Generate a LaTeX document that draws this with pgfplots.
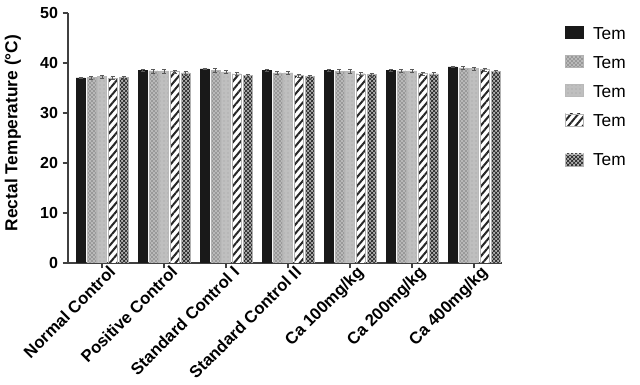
\documentclass[border=0pt]{standalone}
\usepackage{fontspec}
\setmainfont{Liberation Sans}
\usepackage{pgfplots}
\pgfplotsset{compat=1.18}
\usetikzlibrary{patterns,patterns.meta}
\pgfplotsset{lastleg/.style={legend image code/.code={\draw[##1] (0pt,-7.5pt) rectangle (13.5pt,1.5pt);}}}
\begin{document}
\begin{tikzpicture}
\useasboundingbox (-51pt,-91.5pt) rectangle (429pt,197.25pt);
\begin{axis}[
  at={(0,0)}, anchor=south west,
  scale only axis,
  width=325.5pt, height=187.5pt,
  ymin=0, ymax=50, ytick={0,10,20,30,40,50},
  xmin=-0.55, xmax=6.45,
  xtick={0,1,2,3,4,5,6},
  xticklabels={Normal Control,Positive Control,Standard Control I,Standard Control II,Ca 100mg/kg,Ca 200mg/kg,Ca 400mg/kg},
  x tick label style={rotate=45, anchor=north east, font=\bfseries\fontsize{12.5}{14}\selectfont, inner sep=0pt, xshift=5pt, yshift=-1pt},
  y tick label style={font=\bfseries\fontsize{12}{14}\selectfont},
  /pgf/number format/assume math mode=true,
  axis x line*=bottom, axis y line*=left,
  axis line style={line width=1pt, black!75, -},
  tick align=outside, major tick length=4pt,
  tick style={line width=1pt, black!75},
  ylabel={Rectal Temperature (°C)},
  ylabel style={font=\bfseries\fontsize{13}{15}\selectfont, at={(axis description cs:-0.127,0.52)}, anchor=center, rotate=0},
  ybar, bar width=0.145,
  legend style={at={(1.145,0.955)}, anchor=north west, draw=none, fill=none,
    font=\fontsize{13}{15}\selectfont, row sep=7.5pt, inner sep=0pt,
    nodes={inner xsep=7pt}},
  legend cell align=left,
  legend image code/.code={\draw[#1] (0pt,-3pt) rectangle (13.5pt,6pt);},
  error bars/y dir=both, error bars/y explicit,
  error bars/error bar style={line width=0.6pt, draw=gray!70!black, solid},
  error bars/error mark options={rotate=90, mark size=1.5pt, line width=0.6pt, draw=gray!70!black},
]
\addplot[fill=black!90, draw=black!90, bar shift=-0.348] coordinates {
 (0,37.0) +- (0,0.15) (1,38.5) +- (0,0.15) (2,38.8) +- (0,0.15) (3,38.5) +- (0,0.15)
 (4,38.5) +- (0,0.15) (5,38.5) +- (0,0.15) (6,39.2) +- (0,0.15)};
\addlegendentry{Tem}
\addplot[fill=gray!55, draw=gray!60, bar shift=-0.174, postaction={pattern=crosshatch dots, pattern color=gray!40!black}] coordinates {
 (0,37.1) +- (0,0.3) (1,38.4) +- (0,0.4) (2,38.5) +- (0,0.4) (3,38.0) +- (0,0.3)
 (4,38.3) +- (0,0.4) (5,38.4) +- (0,0.3) (6,39.0) +- (0,0.3)};
\addlegendentry{Tem}
\addplot[fill=gray!50, draw=gray!55, bar shift=0, postaction={pattern=dots, pattern color=gray!75}] coordinates {
 (0,37.3) +- (0,0.3) (1,38.4) +- (0,0.4) (2,38.2) +- (0,0.3) (3,38.0) +- (0,0.3)
 (4,38.3) +- (0,0.4) (5,38.4) +- (0,0.3) (6,38.9) +- (0,0.3)};
\addlegendentry{Tem}
\addplot[fill=white, draw=gray!60, bar shift=0.174, postaction={pattern={Lines[angle=50,distance=4.2pt,line width=1.5pt]}, pattern color=black!85}] coordinates {
 (0,37.0) +- (0,0.3) (1,38.3) +- (0,0.3) (2,37.8) +- (0,0.3) (3,37.5) +- (0,0.3)
 (4,37.8) +- (0,0.3) (5,37.9) +- (0,0.3) (6,38.7) +- (0,0.3)};
\addlegendentry{Tem}
\addplot[fill=gray!60, draw=gray!60, bar shift=0.348, postaction={pattern=crosshatch, pattern color=black!90}, lastleg] coordinates {
 (0,37.1) +- (0,0.3) (1,38.0) +- (0,0.3) (2,37.5) +- (0,0.3) (3,37.3) +- (0,0.3)
 (4,37.7) +- (0,0.3) (5,37.8) +- (0,0.3) (6,38.3) +- (0,0.3)};
\addlegendentry{\rule{0pt}{16pt}Tem}
\end{axis}
\end{tikzpicture}
\end{document}
